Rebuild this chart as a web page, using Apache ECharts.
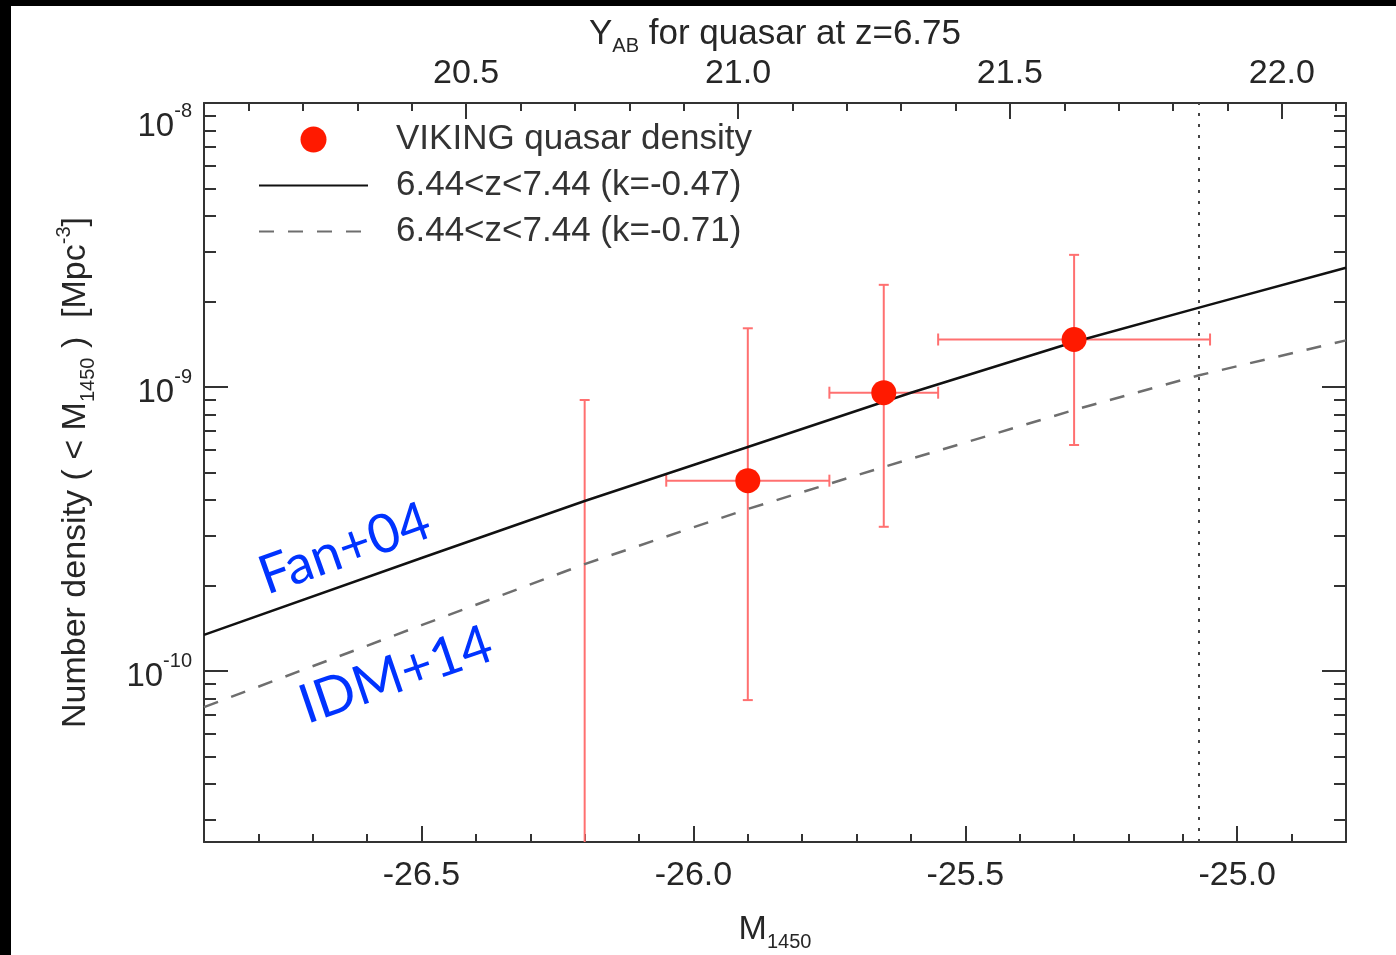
<!DOCTYPE html>
<html>
<head>
<meta charset="utf-8">
<title>VIKING quasar density</title>
<script src="https://cdn.jsdelivr.net/npm/echarts@6/dist/echarts.min.js"></script>
<style>
  html, body { margin: 0; padding: 0; background: #ffffff; }
  #chart { width: 1396px; height: 955px; }
</style>
</head>
<body>
<div id="chart"></div>
<script>
// Cumulative quasar number density n(< M1450) versus absolute magnitude

// Fan+04 luminosity function, integrated over 6.44 < z < 7.44 (k = -0.47)
const fanM = [-26.9, -26.5, -26.2, -25.9, -25.6, -25.3, -25.05, -24.8];
const fanN = [1.34e-10, 2.50e-10, 3.97e-10, 6.15e-10, 9.55e-10, 1.44e-9, 1.95e-9, 2.63e-9];

// IDM+14 luminosity function, integrated over 6.44 < z < 7.44 (k = -0.71)
const idmM = [-26.9, -26.5, -26.2, -25.9, -25.65, -25.3, -25.07, -24.8];
const idmN = [7.46e-11, 1.45e-10, 2.38e-10, 3.72e-10, 5.23e-10, 8.30e-10, 1.10e-9, 1.46e-9];

// VIKING measurements with error ranges
const vikM   = [-25.90, -25.65, -25.30];
const vikN   = [4.68e-10, 9.55e-10, 1.47e-9];
const vikNLo = [7.9e-11, 3.22e-10, 6.25e-10];
const vikNHi = [1.61e-9, 2.29e-9, 2.92e-9];
const vikMLo = [-26.05, -25.75, -25.55];
const vikMHi = [-25.75, -25.55, -25.05];

// Brightest bin: upper error only (no detection)
const limM = [-26.20];
const limN = [9.0e-10];

// Survey magnitude limit (dotted vertical line)
const surveyLimitM = -25.07;

// Axis ranges and tick values
const mRange = [-26.9, -24.8];
const yabOffset = 46.918;            // Y_AB = M1450 + offset for a quasar at z = 6.75
const densRange = [2.5e-11, 1.0002e-8];
const mTicks = [-26.5, -26.0, -25.5, -25.0];
const mMinorTicks = [-26.8, -26.7, -26.6, -26.4, -26.3, -26.2, -26.1, -25.9, -25.8, -25.7, -25.6,
                     -25.4, -25.3, -25.2, -25.1, -24.9];
const yabTicks = [20.5, 21.0, 21.5, 22.0];
const yabMinorTicks = [20.1, 20.2, 20.3, 20.4, 20.6, 20.7, 20.8, 20.9, 21.1, 21.2, 21.3, 21.4,
                       21.6, 21.7, 21.8, 21.9, 22.1];
const densTicks = [1e-10, 1e-9, 1e-8];
const densLowerLabels = [1e-10, 1e-9];
const densTopLabel = [1e-8];
const densMinorTicks = [3e-11, 4e-11, 5e-11, 6e-11, 7e-11, 8e-11, 9e-11,
                        2e-10, 3e-10, 4e-10, 5e-10, 6e-10, 7e-10, 8e-10, 9e-10,
                        2e-9, 3e-9, 4e-9, 5e-9, 6e-9, 7e-9, 8e-9, 9e-9];

const FONT = '"Liberation Sans", Helvetica, Arial, sans-serif';
const TEXT = '#262626';
const AXIS = '#333333';
const RED = '#ff1a00';
const ERR = '#ff7070';

const chart = echarts.init(document.getElementById('chart'), null, { renderer: 'canvas' });

function xAxisDef(pos, range, ticks, len, withLabels, margin, extra) {
  return Object.assign({
    type: 'value', position: pos, min: range[0], max: range[1],
    axisLine: { show: withLabels, onZero: false, lineStyle: { color: AXIS, width: 2 } },
    axisTick: { show: true, inside: true, length: len, customValues: ticks,
                lineStyle: { color: AXIS, width: 2 } },
    axisLabel: withLabels ? { show: true, customValues: ticks, margin: margin,
                fontFamily: FONT, fontSize: 34, color: TEXT,
                formatter: v => v.toFixed(1) } : { show: false },
    splitLine: { show: false },
    nameMoveOverlap: false
  }, extra || {});
}

// Labels 10^n as rich text; padTop pushes the label down from its tick
function powerLabel(values, padTop) {
  return {
    show: true, customValues: values, margin: 12, padding: [padTop, 0, 0, 0],
    formatter: v => '{b|10}{e|' + Math.round(Math.log10(v)) + '}',
    rich: {
      b: { fontFamily: FONT, fontSize: 33, color: TEXT, lineHeight: 52, verticalAlign: 'middle' },
      e: { fontFamily: FONT, fontSize: 20, color: TEXT, verticalAlign: 'top' }
    }
  };
}

function yAxisDef(pos, ticks, len, showLine, label, extra) {
  return Object.assign({
    type: 'log', logBase: 10, position: pos, min: densRange[0], max: densRange[1],
    axisLine: { show: showLine, onZero: false, lineStyle: { color: AXIS, width: 2 } },
    axisTick: ticks ? { show: true, inside: true, length: len, customValues: ticks,
                lineStyle: { color: AXIS, width: 2 } } : { show: false },
    axisLabel: label || { show: false },
    splitLine: { show: false },
    nameMoveOverlap: false
  }, extra || {});
}

const nameRich = {
  n: { fontFamily: FONT, fontSize: 34, color: TEXT, lineHeight: 44, verticalAlign: 'middle' },
  t: { fontFamily: FONT, fontSize: 35, color: TEXT, lineHeight: 44, verticalAlign: 'middle' },
  sub: { fontFamily: FONT, fontSize: 20, color: TEXT, verticalAlign: 'bottom' },
  sup: { fontFamily: FONT, fontSize: 20, color: TEXT, verticalAlign: 'top' }
};

const errData = vikM.map((m, i) => [m, vikN[i], vikNLo[i], vikNHi[i], vikMLo[i], vikMHi[i]]);
const limData = limM.map((m, i) => [m, limN[i]]);

function capLine(x1, y1, x2, y2) {
  return { type: 'line', shape: { x1, y1, x2, y2 },
           style: { stroke: ERR, lineWidth: 2 } };
}

const option = {
  animation: false,
  backgroundColor: '#ffffff',
  grid: { left: 204, right: 50, top: 103, bottom: 113, containLabel: false, outerBoundsMode: 'none' },
  xAxis: [
    xAxisDef('bottom', mRange, mTicks, 16, true, 17, {
      name: '{n|M}{sub|1450}', nameLocation: 'middle', nameGap: 66,
      nameTextStyle: { rich: nameRich }
    }),
    xAxisDef('bottom', mRange, mMinorTicks, 8, false, 0),
    xAxisDef('top', [mRange[0] + yabOffset, mRange[1] + yabOffset], yabTicks, 16, true, 12, {
      name: '{t|Y}{sub|AB}{t| for quasar at z=6.75}', nameLocation: 'middle', nameGap: 47,
      nameTextStyle: { rich: nameRich }
    }),
    xAxisDef('top', [mRange[0] + yabOffset, mRange[1] + yabOffset], yabMinorTicks, 8, false, 0)
  ],
  yAxis: [
    yAxisDef('left', densTicks, 24, true, powerLabel(densLowerLabels, 12), {
      name: '{n|Number density ( < M}{sub|1450}{n| )  [Mpc}{sup|-3}{n|]}',
      nameLocation: 'middle', nameGap: 106, nameRotate: 90,
      nameTextStyle: { rich: nameRich }
    }),
    yAxisDef('left', densMinorTicks, 12, false),
    yAxisDef('right', densTicks, 24, true),
    yAxisDef('right', densMinorTicks, 12, false),
    yAxisDef('left', null, 0, false, powerLabel(densTopLabel, 48))
  ],
  legend: {
    orient: 'vertical', left: 253, top: 117,
    itemWidth: 109, itemHeight: 26, itemGap: 11,
    selectedMode: false,
    textStyle: { fontFamily: FONT, fontSize: 35, color: '#333333', padding: [0, 0, 0, 23] },
    data: [
      { name: 'VIKING quasar density', icon: 'circle' },
      { name: '6.44<z<7.44 (k=-0.47)', itemStyle: { opacity: 0 } },
      { name: '6.44<z<7.44 (k=-0.71)', itemStyle: { opacity: 0 } }
    ]
  },
  graphic: [
    { type: 'rect', left: 0, top: 0, shape: { width: 1396, height: 6 }, style: { fill: '#000' }, z: 100 },
    { type: 'rect', left: 0, top: 0, shape: { width: 11, height: 955 }, style: { fill: '#000' }, z: 100 },
    { type: 'text', x: 270, y: 604, rotation: 0.34, z: 50,
      style: { text: 'Fan+04', fontFamily: 'Lato, "Open Sans", sans-serif', fontSize: 54,
               fill: '#0033ff', verticalAlign: 'bottom', align: 'left' } },
    { type: 'text', x: 310, y: 733, rotation: 0.33, z: 50,
      style: { text: 'IDM+14', fontFamily: 'Lato, "Open Sans", sans-serif', fontSize: 54,
               fill: '#0033ff', verticalAlign: 'bottom', align: 'left' } }
  ],
  series: [
    {
      name: 'upper-limit', type: 'custom', z: 3, clip: true, silent: true,
      data: limData,
      renderItem: (params, api) => {
        const top = api.coord([api.value(0), api.value(1)]);
        const bottom = params.coordSys.y + params.coordSys.height;
        return { type: 'group', children: [
          capLine(top[0], top[1], top[0], bottom),
          capLine(top[0] - 5, top[1], top[0] + 5, top[1])
        ] };
      }
    },
    {
      name: 'error-bars', type: 'custom', z: 3, clip: true, silent: true,
      data: errData,
      renderItem: (params, api) => {
        const m = api.value(0), n = api.value(1);
        const hi = api.coord([m, api.value(3)]);
        const lo = api.coord([m, api.value(2)]);
        const l = api.coord([api.value(4), n]);
        const r = api.coord([api.value(5), n]);
        return { type: 'group', children: [
          capLine(hi[0], hi[1], lo[0], lo[1]),
          capLine(hi[0] - 5, hi[1], hi[0] + 5, hi[1]),
          capLine(lo[0] - 5, lo[1], lo[0] + 5, lo[1]),
          capLine(l[0], l[1], r[0], r[1]),
          capLine(l[0], l[1] - 6, l[0], l[1] + 6),
          capLine(r[0], r[1] - 6, r[0], r[1] + 6)
        ] };
      }
    },
    {
      name: '6.44<z<7.44 (k=-0.47)', type: 'line', z: 4,
      data: fanM.map((m, i) => [m, fanN[i]]),
      symbol: 'none', showSymbol: false, smooth: false,
      itemStyle: { color: '#111111' },
      lineStyle: { color: '#111111', width: 2.5 },
      markLine: {
        silent: true, symbol: 'none', animation: false,
        label: { show: false },
        lineStyle: { color: '#444444', width: 2, type: [3, 8] },
        data: [{ xAxis: surveyLimitM }]
      }
    },
    {
      name: '6.44<z<7.44 (k=-0.71)', type: 'line', z: 4,
      data: idmM.map((m, i) => [m, idmN[i]]),
      symbol: 'none', showSymbol: false, smooth: false,
      itemStyle: { color: '#6e6e6e' },
      lineStyle: { color: '#6e6e6e', width: 2.5, type: [15, 14] }
    },
    {
      name: 'VIKING quasar density', type: 'scatter', z: 5,
      data: vikM.map((m, i) => [m, vikN[i]]),
      symbol: 'circle', symbolSize: 25,
      itemStyle: { color: RED, opacity: 1 }
    }
  ]
};

chart.setOption(option);
</script>
</body>
</html>
